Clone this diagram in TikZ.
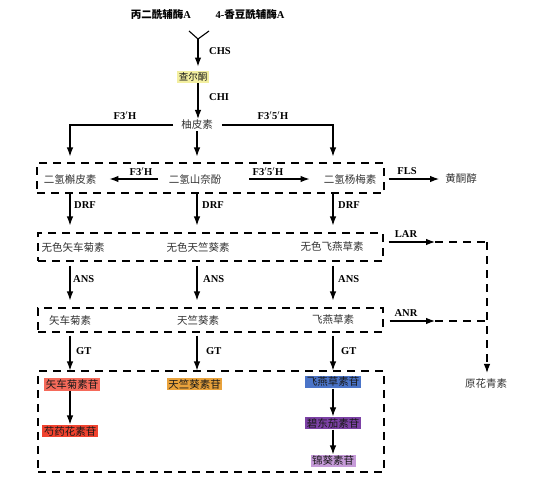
\documentclass[tikz,border=0pt]{standalone}
\usepackage{fontspec}
\setmainfont{Liberation Serif}
\newfontfamily\cjk{Noto Sans CJK SC}
\usetikzlibrary{arrows.meta}
\definecolor{chalc}{HTML}{F3EFA0}
\definecolor{cygc}{HTML}{F56A5A}
\definecolor{pnc}{HTML}{F0432F}
\definecolor{pgc}{HTML}{E9A23B}
\definecolor{dpc}{HTML}{4A74C8}
\definecolor{ptc}{HTML}{7C41A5}
\definecolor{mvc}{HTML}{C69BD9}
\definecolor{txtc}{HTML}{333333}
\newcommand\latb[1]{{\rmfamily\bfseries #1}}
\begin{document}
\begin{tikzpicture}[x=1pt,y=-1pt,
  txt/.style={font=\cjk\fontsize{10.5}{12}\selectfont, text=txtc, inner sep=1pt},
  topt/.style={font=\cjk\bfseries\fontsize{10.5}{12}\selectfont, text=black, inner sep=1pt},
  cbox/.style={font=\cjk\fontsize{10.5}{12}\selectfont, text=black!90, inner sep=1.5pt, minimum height=12.5pt},
  lab/.style={font=\rmfamily\bfseries\fontsize{10.5}{12}\selectfont, inner sep=0pt},
  arr/.style={-{Latex[length=9pt,width=6.5pt]}, line width=1.1pt},
  dsh/.style={dash pattern=on 8pt off 6pt, line width=1.1pt},
  dbox/.style={draw, dash pattern=on 8pt off 6pt, line width=1.1pt, inner sep=0pt, rectangle}]
\useasboundingbox (0,0) rectangle (554,482);
% columns
\coordinate (c1) at (70,0);
\coordinate (c2) at (197,0);
\coordinate (c3) at (333,0);
% dashed boxes
\node[dbox, minimum width=347pt, minimum height=30pt] (b1) at (210.5,178) {};
\node[dbox, minimum width=345pt, minimum height=28pt] (b2) at (210.5,247) {};
\node[dbox, minimum width=345pt, minimum height=24pt] (b3) at (210.5,320) {};
\node[dbox, minimum width=346pt, minimum height=101pt] (b4) at (211,421.5) {};
% top
\node[topt] (mal) at (161,14) {丙二酰辅酶\latb{A}};
\node[topt] (cou) at (250,14) {\latb{4-}香豆酰辅酶\latb{A}};
\coordinate (yl) at (189,31);
\coordinate (yr) at (209,31);
\coordinate (yj) at (198,39);
\node[cbox, fill=chalc, font=\cjk\fontsize{9.5}{11}\selectfont] (chal) at (193,77) {查尔酮};
\node[txt] (nar) at (197,125) {柚皮素};
% row 1
\node[txt] (dhq) at (70,179) {二氢槲皮素};
\node[txt] (dhk) at (195,179) {二氢山奈酚};
\node[txt] (dhm) at (350,179) {二氢杨梅素};
\node[txt] (flav) at (461,179) {黄酮醇};
% row 2
\node[txt] (lcy) at (73,247) {无色矢车菊素};
\node[txt] (lpg) at (198,247) {无色天竺葵素};
\node[txt] (ldp) at (332,247) {无色飞燕草素};
% row 3
\node[txt] (cy) at (70,320) {矢车菊素};
\node[txt] (pg) at (198,320) {天竺葵素};
\node[txt] (dp) at (333,320) {飞燕草素};
\node[txt] (pc) at (486,384) {原花青素};
% glycosides
\node[cbox, fill=cygc] (cyg) at (72,384.5) {矢车菊素苷};
\node[cbox, fill=pnc] (pn) at (70,431) {芍药花素苷};
\node[cbox, fill=pgc] (pgg) at (194.5,384) {天竺葵素苷};
\node[cbox, fill=dpc, minimum height=11pt] (dpg) at (333,382) {飞燕草素苷};
\node[cbox, fill=ptc] (ptg) at (333,423) {碧东茄素苷};
\node[cbox, fill=mvc] (mvg) at (333,461) {锦葵素苷};
% labels
\node[lab, anchor=west] (lchs) at (209,51) {CHS};
\node[lab, anchor=west] (lchi) at (209,97) {CHI};
\node[lab] (lf1) at (125,116) {F3$'$H};
\node[lab] (lf2) at (273,116) {F3$'$5$'$H};
\node[lab] (lf3) at (141,172) {F3$'$H};
\node[lab] (lf4) at (268,172) {F3$'$5$'$H};
\node[lab] (lfls) at (407,171) {FLS};
\node[lab, anchor=west] (ld1) at (74,205) {DRF};
\node[lab, anchor=west] (ld2) at (202,205) {DRF};
\node[lab, anchor=west] (ld3) at (338,205) {DRF};
\node[lab, anchor=west] (la1) at (73,279) {ANS};
\node[lab, anchor=west] (la2) at (203,279) {ANS};
\node[lab, anchor=west] (la3) at (338,279) {ANS};
\node[lab, anchor=west] (lg1) at (76,351) {GT};
\node[lab, anchor=west] (lg2) at (206,351) {GT};
\node[lab, anchor=west] (lg3) at (341,351) {GT};
\node[lab] (llar) at (406,234) {LAR};
\node[lab] (lanr) at (406,313) {ANR};
% connectors
\draw[line width=1.1pt] (yl) -- (yj) -- (yr);
\draw[arr, shorten >=4pt] (yj) -- (chal.north -| yj);
\draw[arr] (chal.south -| yj) -- (nar.north -| yj);
\draw[arr, shorten <=7pt, shorten >=6pt] (nar.west) -| (b1.north -| c1);
\draw[arr, shorten <=8pt, shorten >=6pt] (nar.east) -| (b1.north -| c3);
\draw[arr, shorten >=6pt] (nar.south -| c2) -- (b1.north -| c2);
\draw[arr, shorten <=10pt, shorten >=12pt] (dhk.west) -- (dhq.east);
\draw[arr, shorten <=27pt, shorten >=13pt] (dhk.east) -- (dhm.west);
\draw[arr, shorten <=4pt, shorten >=5pt] (b1.east |- flav) -- (flav.west);
\foreach \c in {c1,c2,c3}{
  \draw[arr, shorten >=7pt] (b1.south -| \c) -- (b2.north -| \c);
  \draw[arr, shorten <=4pt, shorten >=7pt] (b2.south -| \c) -- (b3.north -| \c);
  \draw[arr, shorten <=3pt] (b3.south -| \c) -- (b4.north -| \c);
}
\draw[arr] (cyg.south -| c1) -- (pn.north -| c1);
\draw[arr] (dpg.south) -- (ptg.north);
\draw[arr] (ptg.south) -- (mvg.north);
\coordinate (lar) at (435,242);
\coordinate (lc) at (487,242);
\coordinate (anr) at (435,321);
\coordinate (ac) at (487,321);
\draw[arr, shorten <=5pt] (b2.east |- lar) -- (lar);
\draw[dsh] (lar) -- (lc);
\draw[dsh, -{Latex[length=9pt,width=6.5pt]}, shorten >=5pt] (lc) -- (pc.north -| lc);
\draw[arr, shorten <=6pt] (b3.east |- anr) -- (anr);
\draw[dsh] (anr) -- (ac);
\end{tikzpicture}
\end{document}
